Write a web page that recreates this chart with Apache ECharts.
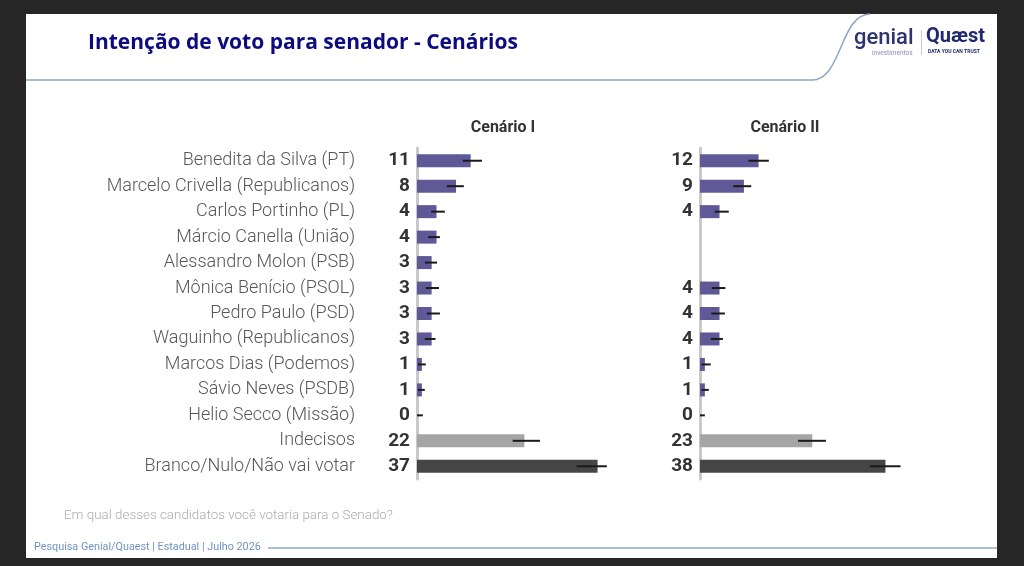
<!DOCTYPE html>
<html>
<head>
<meta charset="utf-8">
<script src="https://cdn.jsdelivr.net/npm/echarts@6/dist/echarts.min.js"></script>
<style>
  html, body { margin: 0; padding: 0; background: #262626; }
  #chart { width: 1024px; height: 566px; }
</style>
</head>
<body>
<div id="chart"></div>
<script>
// candidatos (ordem do slide)
var candidates = ['Benedita da Silva (PT)', 'Marcelo Crivella (Republicanos)', 'Carlos Portinho (PL)',
    'Márcio Canella (União)', 'Alessandro Molon (PSB)', 'Mônica Benício (PSOL)', 'Pedro Paulo (PSD)',
    'Waguinho (Republicanos)', 'Marcos Dias (Podemos)', 'Sávio Neves (PSDB)', 'Helio Secco (Missão)',
    'Indecisos', 'Branco/Nulo/Não vai votar'];
var scenarios = ['Cenário I', 'Cenário II'];

// Cenário I
var scen1 = [11, 8, 4, 4, 3, 3, 3, 3, 1, 1, 0, 22, 37];
var low1  = [9.4, 6.1, 2.9, 2.3, 1.6, 1.8, 2.0, 1.6, 0.2, 0.2, 0, 19.6, 32.7];
var high1 = [13.3, 9.6, 5.7, 4.7, 4.1, 4.5, 4.7, 3.8, 1.8, 1.6, 1.2, 25.2, 38.9];

// Cenário II (Canella e Molon fora)
var scen2 = [12, 9, 4, null, null, 4, 4, 4, 1, 1, 0, 23, 38];
var low2  = [9.9, 6.8, 3.0, null, null, 2.4, 2.3, 2.2, 0.3, 0.3, 0, 20.1, 34.8];
var high2 = [14.1, 10.5, 5.9, null, null, 5.2, 5.1, 4.7, 2.2, 1.8, 1.0, 25.8, 41.1];

var PURPLE = '#5f5a97', LIGHT = '#a5a5a5', DARK = '#464646';

function barColor(p) {
    if (p.dataIndex === 11) return LIGHT;
    if (p.dataIndex === 12) return DARK;
    return PURPLE;
}

function errData(lo, hi) {
    var d = [];
    for (var i = 0; i < lo.length; i++) {
        if (lo[i] == null) continue;
        d.push([i, lo[i], hi[i]]);
    }
    return d;
}

function errRender(params, api) {
    var a = api.coord([api.value(1), api.value(0)]);
    var b = api.coord([api.value(2), api.value(0)]);
    return {
        type: 'line',
        shape: { x1: a[0], y1: a[1], x2: b[0], y2: b[1] },
        style: { stroke: '#1a1a1a', lineWidth: 2 }
    };
}

var gridTop = 148, gridH = 331, unit = 4.88, xMax = 42;

function yAxisFor(idx, showNames) {
    return {
        type: 'category', gridIndex: idx, inverse: true, data: candidates, offset: 1,
        axisLine: { show: true, lineStyle: { color: '#c9c9c9', width: 3 } },
        axisTick: { show: false },
        axisLabel: {
            show: showNames, margin: 61, fontFamily: 'Roboto', fontSize: 18,
            color: '#575757', fontWeight: 300
        }
    };
}

function xAxisFor(idx) {
    return { type: 'value', gridIndex: idx, min: 0, max: xMax, show: false };
}

function barSeries(idx, data) {
    return {
        type: 'bar', xAxisIndex: idx, yAxisIndex: idx, data: data,
        barWidth: 13,
        itemStyle: { color: barColor },
        label: {
            show: true, position: 'left', distance: 7,
            fontFamily: 'Roboto', fontWeight: 'bold', fontSize: 19, color: '#333333'
        },
        silent: true, animation: false
    };
}

function errSeries(idx, lo, hi) {
    return {
        type: 'custom', xAxisIndex: idx, yAxisIndex: idx,
        renderItem: errRender, data: errData(lo, hi),
        encode: { x: [1, 2], y: 0 }, z: 5, silent: true, animation: false
    };
}

var option = {
    backgroundColor: '#262626',
    animation: false,
    title: {
        text: 'Intenção de voto para senador - Cenários',
        left: 83, top: 28,
        textStyle: { color: '#0c0c80', fontFamily: 'Open Sans', fontWeight: 'bold', fontSize: 21 }
    },
    grid: [
        { left: 417, top: gridTop, height: gridH, width: xMax * unit },
        { left: 700, top: gridTop, height: gridH, width: xMax * unit }
    ],
    xAxis: [xAxisFor(0), xAxisFor(1)],
    yAxis: [yAxisFor(0, true), yAxisFor(1, false)],
    series: [
        barSeries(0, scen1), errSeries(0, low1, high1),
        barSeries(1, scen2), errSeries(1, low2, high2)
    ],
    graphic: [
        // fundo branco do slide
        { type: 'rect', z: -10, shape: { x: 26, y: 14, width: 971, height: 544 }, style: { fill: '#ffffff' } },
        // linha curva do cabeçalho
        { type: 'line', z: -5, shape: { x1: 26, y1: 80, x2: 812, y2: 80 },
          style: { stroke: '#8ea6c6', lineWidth: 1.5 } },
        { type: 'bezierCurve', z: -5,
          shape: { x1: 812, y1: 80, cpx1: 842, cpy1: 80, cpx2: 840, cpy2: 14, x2: 870, y2: 14 },
          style: { fill: null, stroke: '#8ea6c6', lineWidth: 1.5 } },
        // logos
        { type: 'text', left: 854, top: 27, style: { text: 'genial', fill: '#2e3472', font: '500 22px Roboto' } },
        { type: 'text', left: 872, top: 50, style: { text: 'investimentos', fill: '#8a8fb0', font: '6.5px Roboto' } },
        { type: 'rect', shape: { x: 921, y: 30, width: 1, height: 25 }, style: { fill: '#c8c8d8' } },
        { type: 'text', left: 926, top: 27, style: { text: 'Quæst', fill: '#1f2a6e', font: 'bold 20px Roboto' } },
        { type: 'text', left: 928, top: 49, style: { text: 'DATA YOU CAN TRUST', fill: '#1f2a6e', font: 'bold 5px Roboto' } },
        // títulos dos cenários
        { type: 'text', x: 503, y: 128, style: { text: scenarios[0], fill: '#333333', font: 'bold 16px Roboto', align: 'center', verticalAlign: 'middle' } },
        { type: 'text', x: 785, y: 128, style: { text: scenarios[1], fill: '#333333', font: 'bold 16px Roboto', align: 'center', verticalAlign: 'middle' } },
        // pergunta
        { type: 'text', x: 64, y: 516, style: { text: 'Em qual desses candidatos você votaria para o Senado?', fill: '#ababab', font: '300 13.4px Roboto', verticalAlign: 'middle' } },
        // rodapé
        { type: 'text', x: 34, y: 547, style: { text: 'Pesquisa Genial/Quaest | Estadual | Julho 2026', fill: '#6f93c4', font: '10.8px Roboto', verticalAlign: 'middle' } },
        { type: 'rect', shape: { x: 268, y: 547, width: 729, height: 2 }, style: { fill: '#a8c0dc' } }
    ]
};

var myChart = echarts.init(document.getElementById('chart'));
myChart.setOption(option);
</script>
</body>
</html>
